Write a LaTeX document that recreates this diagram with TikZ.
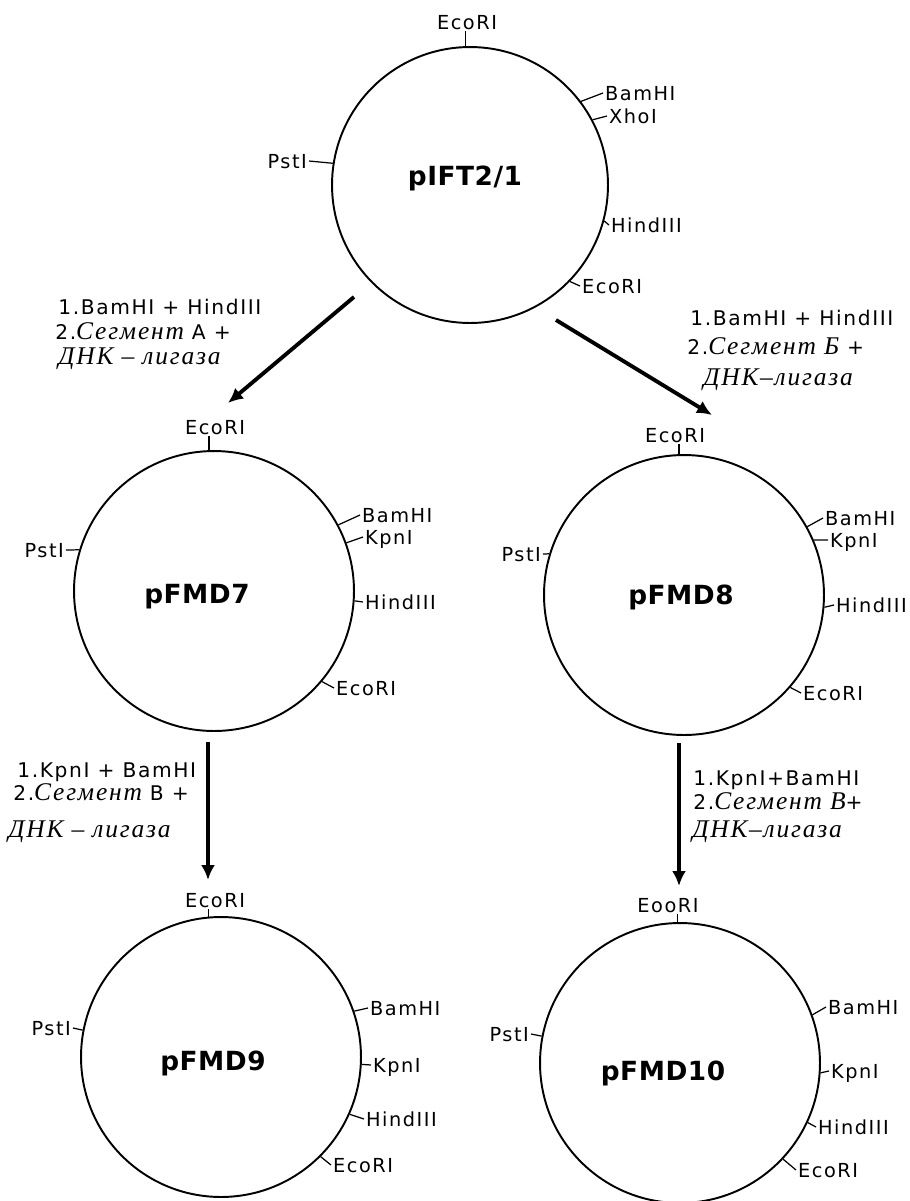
\documentclass[tikz,border=0pt]{standalone}
\usepackage{fontspec}
\setmainfont{DejaVu Sans}
\newfontfamily\sitefont{DejaVu Sans}[LetterSpace=8]
\newfontfamily\namefont{DejaVu Sans}[LetterSpace=2]
\newfontfamily\cyrfont{Liberation Serif}[LetterSpace=7]
\usetikzlibrary{arrows.meta}
\newcommand\cyr[1]{{\cyrfont\itshape\fontsize{14.5}{16}\selectfont #1}}
\tikzset{
	plasmid/.style={draw, circle, line width=1.1pt, minimum size=5.6cm, inner sep=0pt},
	pname/.style={font=\namefont\bfseries\fontsize{15}{18}\selectfont},
	site/.style={font=\sitefont\fontsize{11}{13}\selectfont, inner sep=1pt, text height=8pt, text depth=0pt},
	note/.style={anchor=west, inner sep=0pt, font=\sitefont\fontsize{11.5}{13}\selectfont, text height=8.4pt, text depth=0pt},
	cut/.style={line width=0.7pt},
	reaction/.style={line width=2.2pt, -{Latex[length=3mm,width=2.8mm]}}
}

\begin{document}
\begin{tikzpicture}[x=0.02cm, y=-0.02cm]
			%%%%% START %%%%%
			\useasboundingbox (0,0) rectangle (910,1201);
			
			% pIFT2/1
			\node[plasmid, minimum size=5.52cm] (p0) at (470,185) {};
			\node[pname] (n0) at (465,178) {pIFT2/1};
			\node[site] (e0a) at (467,22) {EcoRI};
			\node[site, anchor=west] (b0) at (603,93) {BamHI};
			\node[site, anchor=west] (x0) at (607,116) {XhoI};
			\node[site, anchor=west] (h0) at (609,225) {HindIII};
			\node[site, anchor=west] (e0b) at (580,286) {EcoRI};
			\node[site, anchor=east] (ps0) at (309,161) {PstI};
			\draw[cut] (p0.92) -- (p0.92 |- e0a.south);
			\draw[cut] (p0.37) -- (b0.west);
			\draw[cut] (p0.28) -- (x0.west);
			\draw[cut] (p0.345) -- (h0.west);
			\draw[cut] (p0.316) -- (e0b.west);
			\draw[cut] (p0.171) -- (ps0.east);
			
			% pFMD7
			\node[plasmid] (p7) at (214,591) {};
			\node[pname] (n7) at (197,597) {pFMD7};
			\node[site] (e7a) at (215,427) {EcoRI};
			\node[site, anchor=west] (b7) at (360,515) {BamHI};
			\node[site, anchor=west] (k7) at (363,537) {KpnI};
			\node[site, anchor=west] (h7) at (363,602) {HindIII};
			\node[site, anchor=west] (e7b) at (334,688) {EcoRI};
			\node[site, anchor=east] (ps7) at (66,550) {PstI};
			\draw[cut] (p7.92) -- (p7.92 |- e7a.south);
			\draw[cut] (p7.28) -- (b7.west);
			\draw[cut] (p7.20) -- (k7.west);
			\draw[cut] (p7.356) -- (h7.west);
			\draw[cut] (p7.320) -- (e7b.west);
			\draw[cut] (p7.163) -- (ps7.east);
			
			% pFMD8
			\node[plasmid] (p8) at (684,595) {};
			\node[pname] (n8) at (681,597) {pFMD8};
			\node[site] (e8a) at (675,435) {EcoRI};
			\node[site, anchor=west] (b8) at (823,518) {BamHI};
			\node[site, anchor=west] (k8) at (828,540) {KpnI};
			\node[site, anchor=west] (h8) at (834,605) {HindIII};
			\node[site, anchor=west] (e8b) at (801,693) {EcoRI};
			\node[site, anchor=east] (ps8) at (543,554) {PstI};
			\draw[cut] (p8.92) -- (p8.92 |- e8a.south);
			\draw[cut] (p8.29) -- (b8.west);
			\draw[cut] (p8.23) -- (k8.west);
			\draw[cut] (p8.355) -- (h8.west);
			\draw[cut] (p8.319) -- (e8b.west);
			\draw[cut] (p8.163) -- (ps8.east);
			
			% pFMD9
			\node[plasmid] (p9) at (221,1057) {};
			\node[pname] (n9) at (213,1063) {pFMD9};
			\node[site] (e9a) at (215,900) {EcoRI};
			\node[site, anchor=west] (b9) at (368,1008) {BamHI};
			\node[site, anchor=west] (k9) at (371,1065) {KpnI};
			\node[site, anchor=west] (h9) at (364,1119) {HindIII};
			\node[site, anchor=west] (e9b) at (331,1165) {EcoRI};
			\node[site, anchor=east] (ps9) at (73,1028) {PstI};
			\draw[cut] (p9.95) -- (p9.95 |- e9a.south);
			\draw[cut] (p9.19) -- (b9.west);
			\draw[cut] (p9.357) -- (k9.west);
			\draw[cut] (p9.336) -- (h9.west);
			\draw[cut] (p9.315) -- (e9b.west);
			\draw[cut] (p9.169) -- (ps9.east);
			
			% pFMD10
			\node[plasmid] (p10) at (680,1063) {};
			\node[pname] (n10) at (663,1073) {pFMD10};
			\node[site] (e10a) at (668,905) {EooRI};
			\node[site, anchor=west] (b10) at (826,1007) {BamHI};
			\node[site, anchor=west] (k10) at (829,1071) {KpnI};
			\node[site, anchor=west] (h10) at (816,1127) {HindIII};
			\node[site, anchor=west] (e10b) at (796,1170) {EcoRI};
			\node[site, anchor=east] (ps10) at (531,1034) {PstI};
			\draw[cut] (p10.91) -- (p10.91 |- e10a.south);
			\draw[cut] (p10.20) -- (b10.west);
			\draw[cut] (p10.356) -- (k10.west);
			\draw[cut] (p10.335) -- (h10.west);
			\draw[cut] (p10.317) -- (e10b.west);
			\draw[cut] (p10.169) -- (ps10.east);
			
			% steps
			\coordinate (a1s) at (354,297);
			\coordinate (a1e) at (228,403);
			\coordinate (a2s) at (556,320);
			\coordinate (a2e) at (712,415);
			\coordinate (a3s) at (208,742);
			\coordinate (a3e) at (208,880);
			\coordinate (a4s) at (679,743);
			\coordinate (a4e) at (679,886);
			\draw[reaction] (a1s) -- (a1e);
			\draw[reaction] (a2s) -- (a2e);
			\draw[reaction] (a3s) -- (a3e);
			\draw[reaction] (a4s) -- (a4e);
			
			\node[note] (s1a) at (58,307) {1.BamHI + HindIII};
			\node[note] (s1b) at (55,332) {2.\cyr{Сегмент} А +};
			\node[note] (s1c) at (58,357) {\cyr{ДНК – лигаза}};
			
			\node[note] (s2a) at (690,318) {1.BamHI + HindIII};
			\node[note] (s2b) at (687,347) {2.\cyr{Сегмент Б} +};
			\node[note] (s2c) at (703,378) {\cyr{ДНК–лигаза}};
			
			\node[note] (s3a) at (17,770) {1.KpnI + BamHI};
			\node[note] (s3b) at (13,793) {2.\cyr{Сегмент} В +};
			\node[note] (s3c) at (8,830) {\cyr{ДНК – лигаза}};
			
			\node[note] (s4a) at (693,778) {1.KpnI+BamHI};
			\node[note] (s4b) at (693,802) {2.\cyr{Сегмент В}+};
			\node[note] (s4c) at (692,830) {\cyr{ДНК–лигаза}};
			
			%%%%% END %%%%%
\end{tikzpicture}
\end{document}
